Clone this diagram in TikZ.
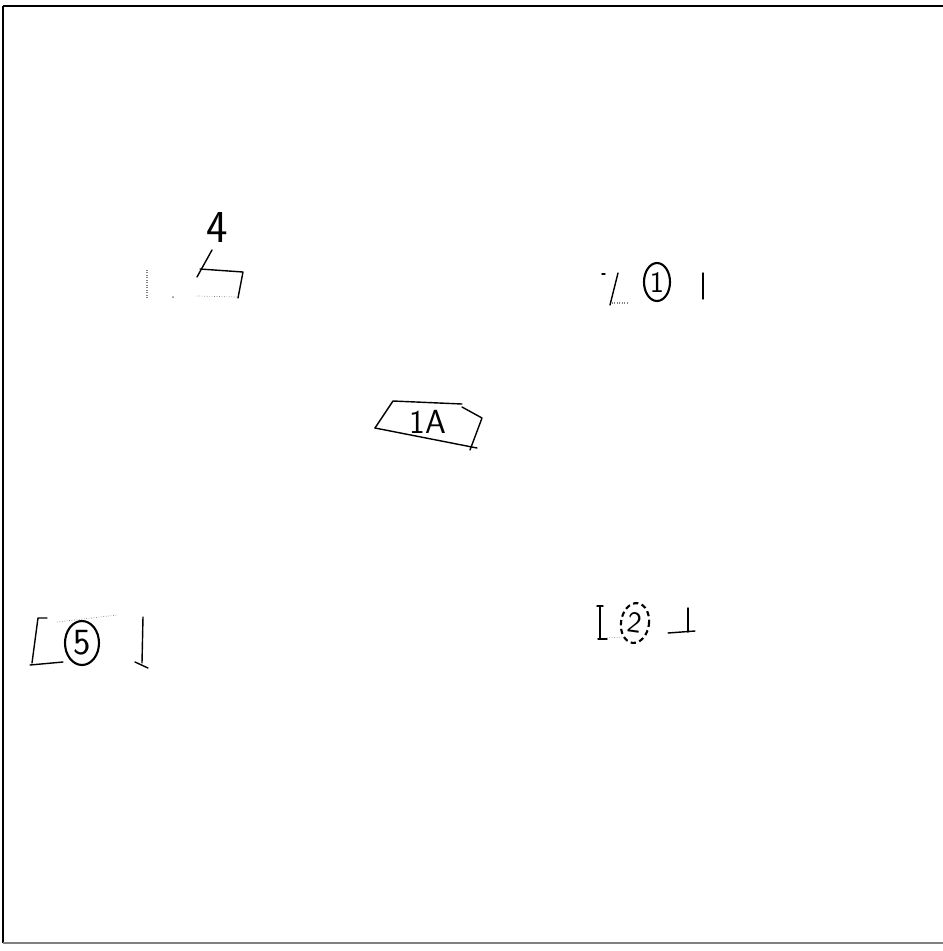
\documentclass[tikz,border=0pt]{standalone}
\usetikzlibrary{shapes.geometric}

\begin{document}
\begin{tikzpicture}[
    x=0.02cm, y=-0.02cm,
    pen/.style={thick, line cap=round, line join=round},
    faint/.style={thin, densely dotted, gray},
    ring/.style={draw, very thick, ellipse, inner sep=0pt, font=\sffamily\fontsize{17}{17}\selectfont},
    tag/.style={font=\sffamily\fontsize{19}{19}\selectfont},
]
\useasboundingbox (0,0) rectangle (943,951);
% frame
\draw[very thick] (3,6) -- (943,6);
\draw[thick] (3,6) -- (3,943);
\draw[thick, gray] (3,943) -- (943,943);

% top left
\node[tag, font=\sffamily\fontsize{26}{26}\selectfont] (four) at (217,228) {4};
\draw[faint, thick] (147,270) -- (147,298);
\fill[gray] (173,297) circle (1);
\draw[pen] (212,250) -- (197,277);
\draw[pen] (200,269) -- (243,272) -- (238,298);
\draw[faint] (197,296) -- (238,297);

% top right
\node[ring, minimum width=0.52cm, minimum height=0.76cm] (one) at (657,282) {1};
\draw[pen] (602,274) -- (605,274);
\draw[pen] (618,273) -- (610,305);
\draw[faint, thick] (612,303) -- (627,303);
\draw[pen] (703,273) -- (703,299);

% centre
\node[tag] (oneA) at (428,422) {1A};
\draw[pen] (375,428) -- (393,401) -- (462,404);
\draw[pen] (375,428) -- (477,448);
\draw[pen] (462,407) -- (482,418) -- (470,450);

% bottom left
\node[ring, font=\sffamily\fontsize{21}{21}\selectfont, minimum width=0.68cm, minimum height=0.88cm] (five) at (82,643) {5};
\draw[pen] (47,618) -- (38,618) -- (32,663);
\draw[pen] (30,665) -- (63,662);
\draw[faint] (57,622) -- (117,615);
\draw[pen] (143,617) -- (142,663);
\draw[pen] (135,662) -- (148,668);

% bottom right
\node[ring, densely dashed, minimum width=0.56cm, minimum height=0.8cm, rotate=-8] (two) at (635,623) {2};
\draw[pen] (597,606) -- (603,606);
\draw[pen] (600,607) -- (600,639);
\draw[pen] (598,639) -- (607,639);
\draw[faint] (607,638) -- (622,637);
\draw[pen] (688,608) -- (688,632);
\draw[pen] (668,633) -- (695,631);
\end{tikzpicture}
\end{document}
